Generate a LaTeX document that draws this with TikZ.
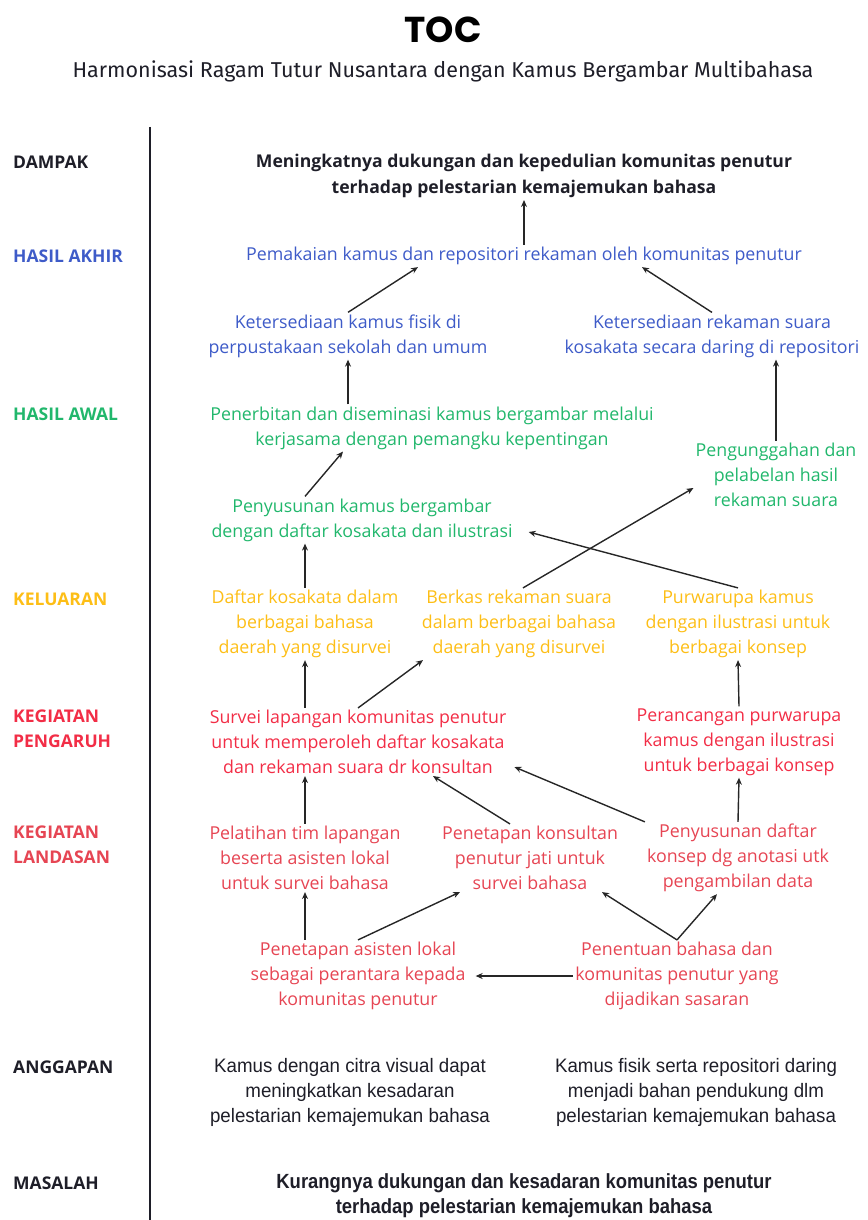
\documentclass[tikz,border=0pt]{standalone}
\usepackage{fontspec}
\setmainfont{Open Sans}
\newfontfamily\titlefont{Poppins}
\newfontfamily\subfont{Fira Sans}
\newfontfamily\condfont[FakeStretch=0.96]{Liberation Sans}
\newfontfamily\condboldfont[FakeStretch=0.9]{Liberation Sans}
\usetikzlibrary{arrows.meta,positioning}

\definecolor{tocdark}{RGB}{30,30,40}
\definecolor{tocblue}{RGB}{62,91,200}
\definecolor{tocgreen}{RGB}{33,183,108}
\definecolor{tocyellow}{RGB}{253,190,22}
\definecolor{tocred}{RGB}{242,45,70}
\definecolor{tocred2}{RGB}{230,69,83}

\begin{document}
\begin{tikzpicture}[x=1pt, y=-1pt,
  lbl/.style={anchor=west, align=left, inner sep=0pt, font=\bfseries\fontsize{17.5}{25}\selectfont},
  box/.style={align=center, inner sep=2pt, font=\fontsize{17.8}{25}\selectfont},
  condbox/.style={align=center, inner sep=2pt, font=\condfont\fontsize{19.5}{25}\selectfont, text=tocdark},
  arr/.style={-{Stealth[length=7pt,width=6pt]}, line width=1.4pt, black!85},
]
\useasboundingbox (0,0) rectangle (867,1220);

% title
\node[font=\titlefont\bfseries\fontsize{36}{38}\selectfont] (title) at (443,30) {TOC};
\node[font=\subfont\fontsize{21.5}{22}\selectfont, text=tocdark] (subtitle) at (443,71) {Harmonisasi Ragam Tutur Nusantara dengan Kamus Bergambar Multibahasa};

% separator
\draw[line width=1.5pt, tocdark] (150,127) -- (150,1220);

% row labels
\node[lbl, text=tocdark] (ldampak) at (13,162) {DAMPAK};
\node[lbl, text=tocblue] (lakhir) at (13,256) {HASIL AKHIR};
\node[lbl, text=tocgreen] (lawal) at (13,414) {HASIL AWAL};
\node[lbl, text=tocyellow] (lkeluaran) at (13,599) {KELUARAN};
\node[lbl, text=tocred] (lpengaruh) at (13,729) {KEGIATAN\\PENGARUH};
\node[lbl, text=tocred2] (llandasan) at (13,845) {KEGIATAN\\LANDASAN};
\node[lbl, text=tocdark] (langgapan) at (13,1067) {ANGGAPAN};
\node[lbl, text=tocdark] (lmasalah) at (13,1183) {MASALAH};

% dampak
\node[box, font=\bfseries\fontsize{17.6}{26}\selectfont, text=tocdark] (dampak) at (524,176)
  {Meningkatnya dukungan dan kepedulian komunitas penutur\\terhadap pelestarian kemajemukan bahasa};

% hasil akhir
\node[box, text=tocblue] (pemakaian) at (524,256) {Pemakaian kamus dan repositori rekaman oleh komunitas penutur};
\node[box, text=tocblue] (ketkamus) at (348,336) {Ketersediaan kamus fisik di\\perpustakaan sekolah dan umum};
\node[box, text=tocblue] (ketrekam) at (712,336) {Ketersediaan rekaman suara\\kosakata secara daring di repositori};

% hasil awal
\node[box, text=tocgreen] (penerbitan) at (432,428) {Penerbitan dan diseminasi kamus bergambar melalui\\kerjasama dengan pemangku kepentingan};
\node[box, text=tocgreen] (unggah) at (776,475) {Pengunggahan dan\\pelabelan hasil\\rekaman suara};
\node[box, text=tocgreen] (susunkamus) at (362,520) {Penyusunan kamus bergambar\\dengan daftar kosakata dan ilustrasi};

% keluaran
\node[box, text=tocyellow] (daftar) at (305,624) {Daftar kosakata dalam\\berbagai bahasa\\daerah yang disurvei};
\node[box, text=tocyellow] (berkas) at (519,624) {Berkas rekaman suara\\dalam berbagai bahasa\\daerah yang disurvei};
\node[box, text=tocyellow] (purwarupa) at (738,624) {Purwarupa kamus\\dengan ilustrasi untuk\\berbagai konsep};

% kegiatan pengaruh
\node[box, text=tocred] (survei) at (358,742) {Survei lapangan komunitas penutur\\untuk memperoleh daftar kosakata\\dan rekaman suara dr konsultan};
\node[box, text=tocred] (rancang) at (739,742) {Perancangan purwarupa\\kamus dengan ilustrasi\\untuk berbagai konsep};

% kegiatan landasan
\node[box, text=tocred2] (pelatihan) at (305,858) {Pelatihan tim lapangan\\beserta asisten lokal\\untuk survei bahasa};
\node[box, text=tocred2] (konsultan) at (530,858) {Penetapan konsultan\\penutur jati untuk\\survei bahasa};
\node[box, text=tocred2] (konsep) at (738,858) {Penyusunan daftar\\konsep dg anotasi utk\\pengambilan data};
\node[box, text=tocred2] (asisten) at (358,976) {Penetapan asisten lokal\\sebagai perantara kepada\\komunitas penutur};
\node[box, text=tocred2] (penentuan) at (677,976) {Penentuan bahasa dan\\komunitas penutur yang\\dijadikan sasaran};

% anggapan, masalah
\node[condbox] (anggap1) at (350,1092) {Kamus dengan citra visual dapat\\meningkatkan kesadaran\\pelestarian kemajemukan bahasa};
\node[condbox] (anggap2) at (696,1092) {Kamus fisik serta repositori daring\\menjadi bahan pendukung dlm\\pelestarian kemajemukan bahasa};
\node[condbox, font=\condboldfont\bfseries\fontsize{20.5}{25}\selectfont] (masalah) at (524,1196) {Kurangnya dukungan dan kesadaran komunitas penutur\\terhadap pelestarian kemajemukan bahasa};

% connectors
\path[arr] (pemakaian.north) edge (dampak.south)
           (ketkamus.north) edge ([xshift=-106pt]pemakaian.south)
           (ketrekam.north) edge ([xshift=118pt]pemakaian.south)
           (ketkamus.south |- penerbitan.north) edge (ketkamus.south)
           (unggah.north) edge (unggah.north |- ketrekam.south)
           ([xshift=-57pt]susunkamus.north) edge ([xshift=-89pt]penerbitan.south)
           (daftar.north) edge (daftar.north |- susunkamus.south)
           ([xshift=4pt]berkas.north) edge ([yshift=-13pt]unggah.west)
           (purwarupa.north) edge ([xshift=14pt,yshift=-12pt]susunkamus.east)
           (daftar.north |- survei.north) edge (daftar.south)
           (survei.north) edge ([xshift=-96pt]berkas.south)
           (rancang.north) edge (purwarupa.south)
           (pelatihan.north) edge (pelatihan.north |- survei.south)
           ([xshift=-20pt]konsultan.north) edge ([xshift=75pt]survei.south)
           (konsep.north west) edge ([xshift=6pt,yshift=-25pt]survei.east)
           (konsep.north) edge (rancang.south)
           (pelatihan.south |- asisten.north) edge (pelatihan.south)
           (asisten.north) edge ([xshift=-70pt]konsultan.south)
           (penentuan.west) edge ([xshift=8pt]asisten.east)
           (penentuan.north) edge ([xshift=72pt]konsultan.south)
           (penentuan.north) edge ([xshift=-21pt]konsep.south);
\end{tikzpicture}
\end{document}
